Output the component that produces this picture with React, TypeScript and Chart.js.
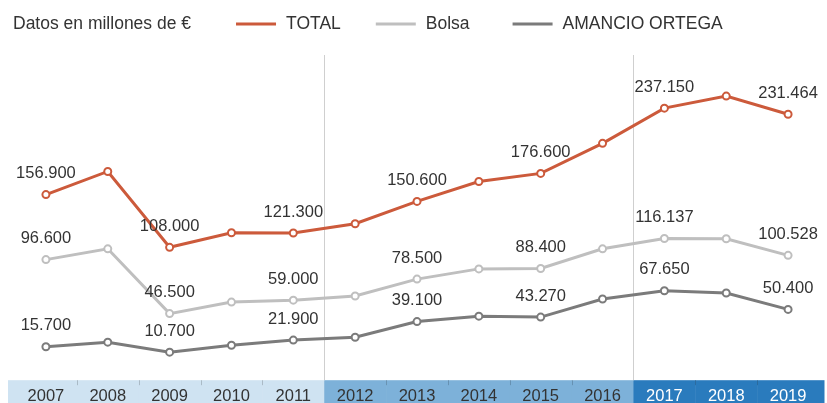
import React, { useEffect, useRef } from 'react';
import { Chart, registerables } from 'chart.js';

Chart.register(...registerables);

// ---- data (millions of €) ----
const YEARS = ['2007', '2008', '2009', '2010', '2011', '2012', '2013', '2014', '2015', '2016', '2017', '2018', '2019'];
const TOTAL = [156900, 178400, 108000, 121500, 121300, 129900, 150600, 169100, 176600, 204500, 237150, 248300, 231464];
const BOLSA = [96600, 106600, 46500, 57200, 59000, 62800, 78500, 88000, 88400, 106600, 116137, 116000, 100528];
const AMANCIO = [15700, 20000, 10700, 17100, 21900, 24600, 39100, 44100, 43270, 60000, 67650, 65600, 50400];
const LABELED_YEARS = ['2007', '2009', '2011', '2013', '2015', '2017', '2019'];
const SERIES_NAMES = ['TOTAL', 'Bolsa', 'AMANCIO ORTEGA'];
const UNIT_NOTE = 'Datos en millones de €';
const PERIOD_STARTS = ['2012', '2017'];

// ---- styles ----
const SERIES_COLORS = ['#cc5a3b', '#bfbfbf', '#7b7b7b'];
const BAND_COLORS = ['#cfe3f2', '#7db1d9', '#2a7bbd'];
const FONT = '"Liberation Sans", Arial, Helvetica, sans-serif';
const TEXT = '#333333';
const LEGEND_GAPS = [45, 35, 43];

const periodOf = (year: string) => PERIOD_STARTS.filter((p) => Number(year) >= Number(p)).length;
const fmt = (n: number) => String(Math.round(n)).replace(/\B(?=(\d{3})+(?!\d))/g, '.');

const bandPlugin = {
  id: 'band',
  beforeDraw(chart: any) {
    const { ctx, chartArea, scales } = chart;
    const x = scales.x;
    const top = chartArea.bottom;
    const bottom = chart.height;
    const n = YEARS.length;
    const half = (x.getPixelForValue(1) - x.getPixelForValue(0)) / 2;
    ctx.save();
    for (let i = 0; i < n; i++) {
      let l = x.getPixelForValue(i) - half;
      let r = x.getPixelForValue(i) + half;
      if (i === 0) l = 8;
      if (i === n - 1) r = 824;
      ctx.fillStyle = BAND_COLORS[periodOf(YEARS[i])];
      ctx.fillRect(l, top, r - l + 0.5, bottom - top);
    }
    ctx.strokeStyle = 'rgba(0,0,0,0.18)';
    ctx.lineWidth = 1;
    for (let i = 1; i < n; i++) {
      if (periodOf(YEARS[i]) !== periodOf(YEARS[i - 1])) continue;
      const px = Math.round(x.getPixelForValue(i) - half) + 0.5;
      ctx.beginPath();
      ctx.moveTo(px, top);
      ctx.lineTo(px, top + 5);
      ctx.stroke();
    }
    ctx.strokeStyle = '#cfcfcf';
    for (let i = 1; i < n; i++) {
      if (periodOf(YEARS[i]) === periodOf(YEARS[i - 1])) continue;
      const px = Math.round(x.getPixelForValue(i) - half) + 0.5;
      ctx.beginPath();
      ctx.moveTo(px, 55);
      ctx.lineTo(px, top);
      ctx.stroke();
    }
    ctx.restore();
  },
};

const labelPlugin = {
  id: 'valueLabels',
  afterDatasetsDraw(chart: any) {
    const { ctx } = chart;
    ctx.save();
    ctx.font = `16.5px ${FONT}`;
    ctx.fillStyle = TEXT;
    ctx.textAlign = 'center';
    ctx.textBaseline = 'middle';
    chart.data.datasets.forEach((ds: any, di: number) => {
      const meta = chart.getDatasetMeta(di);
      meta.data.forEach((pt: any, i: number) => {
        if (!LABELED_YEARS.includes(YEARS[i])) return;
        const text = fmt(ds.data[i]);
        const w = ctx.measureText(text).width;
        let cx = pt.x;
        if (cx + w / 2 > chart.width - 2) cx = chart.width - 2 - w / 2;
        ctx.fillText(text, cx, pt.y - 21);
      });
    });
    ctx.restore();
  },
};

const legendPlugin = {
  id: 'headerLegend',
  afterDraw(chart: any) {
    const { ctx } = chart;
    const y = 24;
    ctx.save();
    ctx.font = `17.5px ${FONT}`;
    ctx.fillStyle = TEXT;
    ctx.textBaseline = 'middle';
    ctx.textAlign = 'left';
    let x = 13;
    ctx.fillText(UNIT_NOTE, x, y);
    x += ctx.measureText(UNIT_NOTE).width;
    chart.data.datasets.forEach((ds: any, i: number) => {
      x += LEGEND_GAPS[i];
      ctx.strokeStyle = ds.borderColor;
      ctx.lineWidth = 3;
      ctx.beginPath();
      ctx.moveTo(x, y);
      ctx.lineTo(x + 40, y);
      ctx.stroke();
      x += 50;
      ctx.fillStyle = TEXT;
      ctx.fillText(ds.label, x, y);
      x += ctx.measureText(ds.label).width;
    });
    ctx.restore();
  },
};

export default function App() {
  const ref = useRef<HTMLCanvasElement | null>(null);

  useEffect(() => {
    if (!ref.current) return;
    const series = [TOTAL, BOLSA, AMANCIO];
    const chart = new Chart(ref.current, {
      type: 'line',
      data: {
        labels: YEARS,
        datasets: series.map((d, i) => ({
          label: SERIES_NAMES[i],
          data: d,
          borderColor: SERIES_COLORS[i],
          backgroundColor: '#ffffff',
          borderWidth: 3,
          pointRadius: 3.5,
          pointBorderWidth: 2,
          pointBackgroundColor: '#ffffff',
          pointBorderColor: SERIES_COLORS[i],
          tension: 0,
        })),
      },
      options: {
        responsive: false,
        animation: false,
        layout: { padding: { left: 15, right: 8, top: 50, bottom: -9 } },
        plugins: { legend: { display: false }, tooltip: { enabled: false } },
        scales: {
          x: {
            offset: true,
            grid: { display: false, drawTicks: false },
            border: { display: false },
            ticks: {
              padding: 6,
              font: { family: FONT, size: 16.5 },
              color: (c: any) => (periodOf(YEARS[c.index]) === 2 ? '#ffffff' : TEXT),
              autoSkip: false,
              maxRotation: 0,
            },
          },
          y: {
            display: false,
            min: -15300,
            max: 291100,
          },
        },
      },
      plugins: [bandPlugin, labelPlugin, legendPlugin],
    });
    return () => chart.destroy();
  }, []);

  return (
    <div style={{ position: 'fixed', left: 0, top: 0, width: 827, height: 403, background: '#fff' }}>
      <canvas ref={ref} width={827} height={403} style={{ display: 'block' }} />
    </div>
  );
}
